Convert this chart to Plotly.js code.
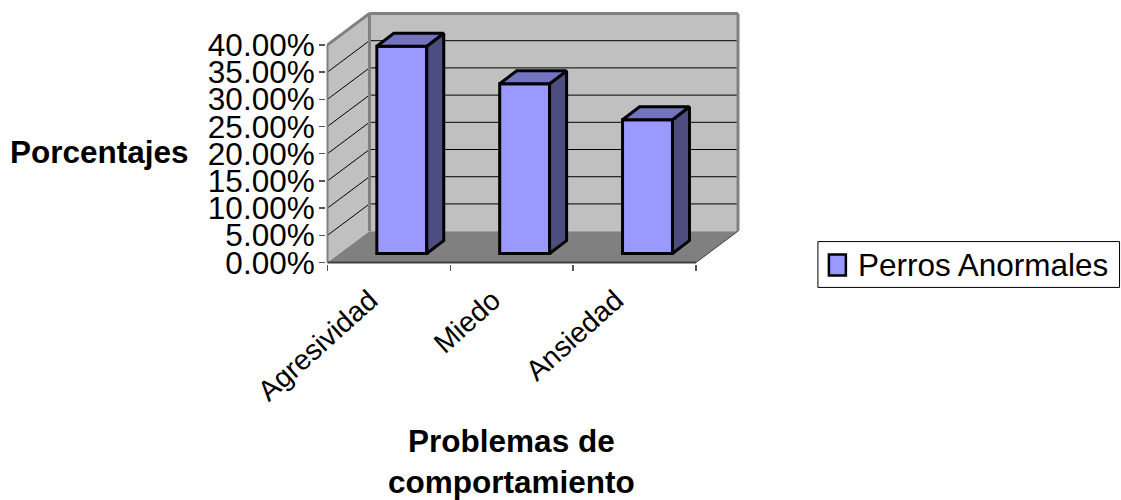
<!DOCTYPE html>
<html><head><meta charset="utf-8">
<script src="https://cdn.plot.ly/plotly-3.0.1.min.js"></script>
<style>html,body{margin:0;padding:0;background:#fff}</style></head>
<body><div id="chart" style="width:1121px;height:500px"></div>
<script>
const categories = ["Agresividad", "Miedo", "Ansiedad"];
const perrosAnormales = [38.1, 31.2, 24.6];
const yTicks = [0, 5, 10, 15, 20, 25, 30, 35, 40];
const yTickLabels = ["0.00%", "5.00%", "10.00%", "15.00%", "20.00%", "25.00%", "30.00%", "35.00%", "40.00%"];
const seriesName = "Perros Anormales";

const W = 1121, H = 500, L = 325.5, R = 741, T = 10.5, B = 264.5;
const pxX = 123, pxY = 5.4625;
const wallDX = 42 / pxX, wallDY = 31.5 / pxY;
const barDX = 17 / pxX, barDY = 13 / pxY;
const barShift = 12.9 / pxX, lift = 9 / pxY, barW = 50 / pxX;
const x0 = -0.5, x1 = 2.5;
const xRange = [x0 - (327 - L) / pxX, x1 + wallDX + (R - 738) / pxX];
const yRange = [-(B - 263) / pxY, 40 + wallDY + (44.5 - 31.5 - T) / pxY];
const paperX = p => (p - L) / (R - L);
const paperY = p => (B - p) / (B - T);

const wallLine = {color: "#808080", width: 3};
function poly(xs, ys, fill, line) {
  let d = xs.map((x, i) => (i ? "L" : "M") + x + "," + ys[i]).join(" ") + " Z";
  return {type: "path", layer: "below", xref: "x", yref: "y", path: d, fillcolor: fill, line: line};
}
function seg(a, b, c, d, line) {
  return {type: "line", layer: "below", xref: "x", yref: "y", x0: a, y0: b, x1: c, y1: d, line: line};
}
function box(l, t, r, b, fill, line) {
  return {type: "rect", layer: "above", xref: "paper", yref: "paper",
    x0: paperX(l), x1: paperX(r), y0: paperY(b), y1: paperY(t), fillcolor: fill, line: line};
}
const top3 = 40;
const shapes = [
  poly([x0, x0 + wallDX, x0 + wallDX, x0], [0, wallDY, top3 + wallDY, top3], "#C0C0C0", {width: 0}),
  poly([x0 + wallDX, x1 + wallDX, x1 + wallDX, x0 + wallDX], [wallDY, wallDY, top3 + wallDY, top3 + wallDY], "#C0C0C0", {width: 0}),
  poly([x0, x1, x1 + wallDX, x0 + wallDX], [0, 0, wallDY, wallDY], "#808080", {width: 0})
];
yTicks.filter(v => v > 0).forEach(v => {
  const ln = {color: "#000", width: 1};
  shapes.push(seg(x0, v, x0 + wallDX, v + wallDY, ln));
  if (v < 40) shapes.push(seg(x0 + wallDX, v + wallDY, x1 + wallDX, v + wallDY, ln));
});
shapes.push(seg(x0 + wallDX, top3 + wallDY, x1 + wallDX, top3 + wallDY, wallLine));
shapes.push(seg(x0 + wallDX, wallDY, x0 + wallDX, top3 + wallDY, wallLine));
shapes.push(seg(x1 + wallDX, wallDY, x1 + wallDX, top3 + wallDY, wallLine));
shapes.push(seg(x0, top3, x0 + wallDX, top3 + wallDY, wallLine));
shapes.push(seg(x0, 0, x0, top3, {color: "#808080", width: 2}));
shapes.push(seg(x0, 0, x1, 0, {color: "#404040", width: 2}));
shapes.push(seg(x1, 0, x1 + wallDX, wallDY, {color: "#404040", width: 1}));
// legend box and swatch
shapes.push(box(818, 242, 1120, 288, "#fff", {color: "#000", width: 1}));
shapes.push(box(829, 255, 846, 276, "#9999FF", {color: "#000", width: 2.5}));

const centers = categories.map((c, i) => i);
const barX = centers.map(c => c + barShift);
const edge = {color: "#000", width: 3};

const traces = [{
  type: "bar", name: seriesName, x: barX, y: perrosAnormales,
  base: perrosAnormales.map(() => lift), width: barW,
  marker: {color: "#9999FF", line: {color: "#000", width: 3}},
  showlegend: false, hoverinfo: "skip"
}];
perrosAnormales.forEach((v, i) => {
  const a = barX[i] - barW / 2, b = barX[i] + barW / 2, t = lift + v;
  traces.push({type: "scatter", mode: "lines", x: [b, b + barDX, b + barDX, b, b],
    y: [lift, lift + barDY, t + barDY, t, lift], fill: "toself", fillcolor: "#4D4D80",
    line: edge, showlegend: false, hoverinfo: "skip"});
  traces.push({type: "scatter", mode: "lines", x: [a, b, b + barDX, a + barDX, a],
    y: [t, t, t + barDY, t + barDY, t], fill: "toself", fillcolor: "#7373BF",
    line: edge, showlegend: false, hoverinfo: "skip"});
});
// carries the tick marks at the category boundaries
traces.push({type: "scatter", mode: "none", x: [x0, x1], y: [0, 0], xaxis: "x2", showlegend: false, hoverinfo: "skip"});

const font = "'Liberation Sans', Arial, sans-serif";
const textSize = 31.5;
const layout = {
  width: W, height: H, paper_bgcolor: "#fff", plot_bgcolor: "rgba(0,0,0,0)",
  margin: {l: L, r: W - R, t: T, b: H - B, pad: 0},
  font: {family: font, color: "#000"},
  showlegend: false,
  xaxis: {range: xRange, tickmode: "array", tickvals: centers, ticktext: categories, tickangle: -42,
    ticks: "", showgrid: false, zeroline: false, showline: false, tickfont: {size: 28.5, color: "#000"},
    ticklen: 0, ticklabelshift: -19, ticklabelstandoff: 13},
  xaxis2: {overlaying: "x", anchor: "y", side: "bottom", range: xRange, tickmode: "array",
    tickvals: [x0, 0.5, 1.5, x1], ticktext: ["", "", "", ""], ticks: "outside", ticklen: 6, tickwidth: 1.5,
    tickcolor: "#555", showgrid: false, zeroline: false, showline: false, showticklabels: false},
  yaxis: {range: yRange, tickmode: "array", tickvals: yTicks, ticktext: yTickLabels, ticks: "outside",
    ticklen: 6, tickwidth: 1.5, tickcolor: "#555", showgrid: false, zeroline: false, showline: false,
    tickfont: {size: textSize, color: "#000"}, ticklabelstandoff: -2},
  shapes: shapes,
  annotations: [
    {text: "<b>Porcentajes</b>", xref: "paper", yref: "paper", x: paperX(190), y: paperY(152),
      xanchor: "right", yanchor: "middle", showarrow: false, font: {size: textSize, color: "#000"}},
    {text: "<b>Problemas de<br>comportamiento</b>", xref: "x", yref: "paper", x: 0.995, y: paperY(462.5),
      xanchor: "center", yanchor: "middle", align: "center", showarrow: false, font: {size: textSize, color: "#000"}},
    {text: seriesName, xref: "paper", yref: "paper", x: paperX(856), y: paperY(266),
      xanchor: "left", yanchor: "middle", showarrow: false, font: {size: textSize, color: "#000"}}
  ]
};
Plotly.newPlot("chart", traces, layout, {displayModeBar: false, staticPlot: true});
</script></body></html>
